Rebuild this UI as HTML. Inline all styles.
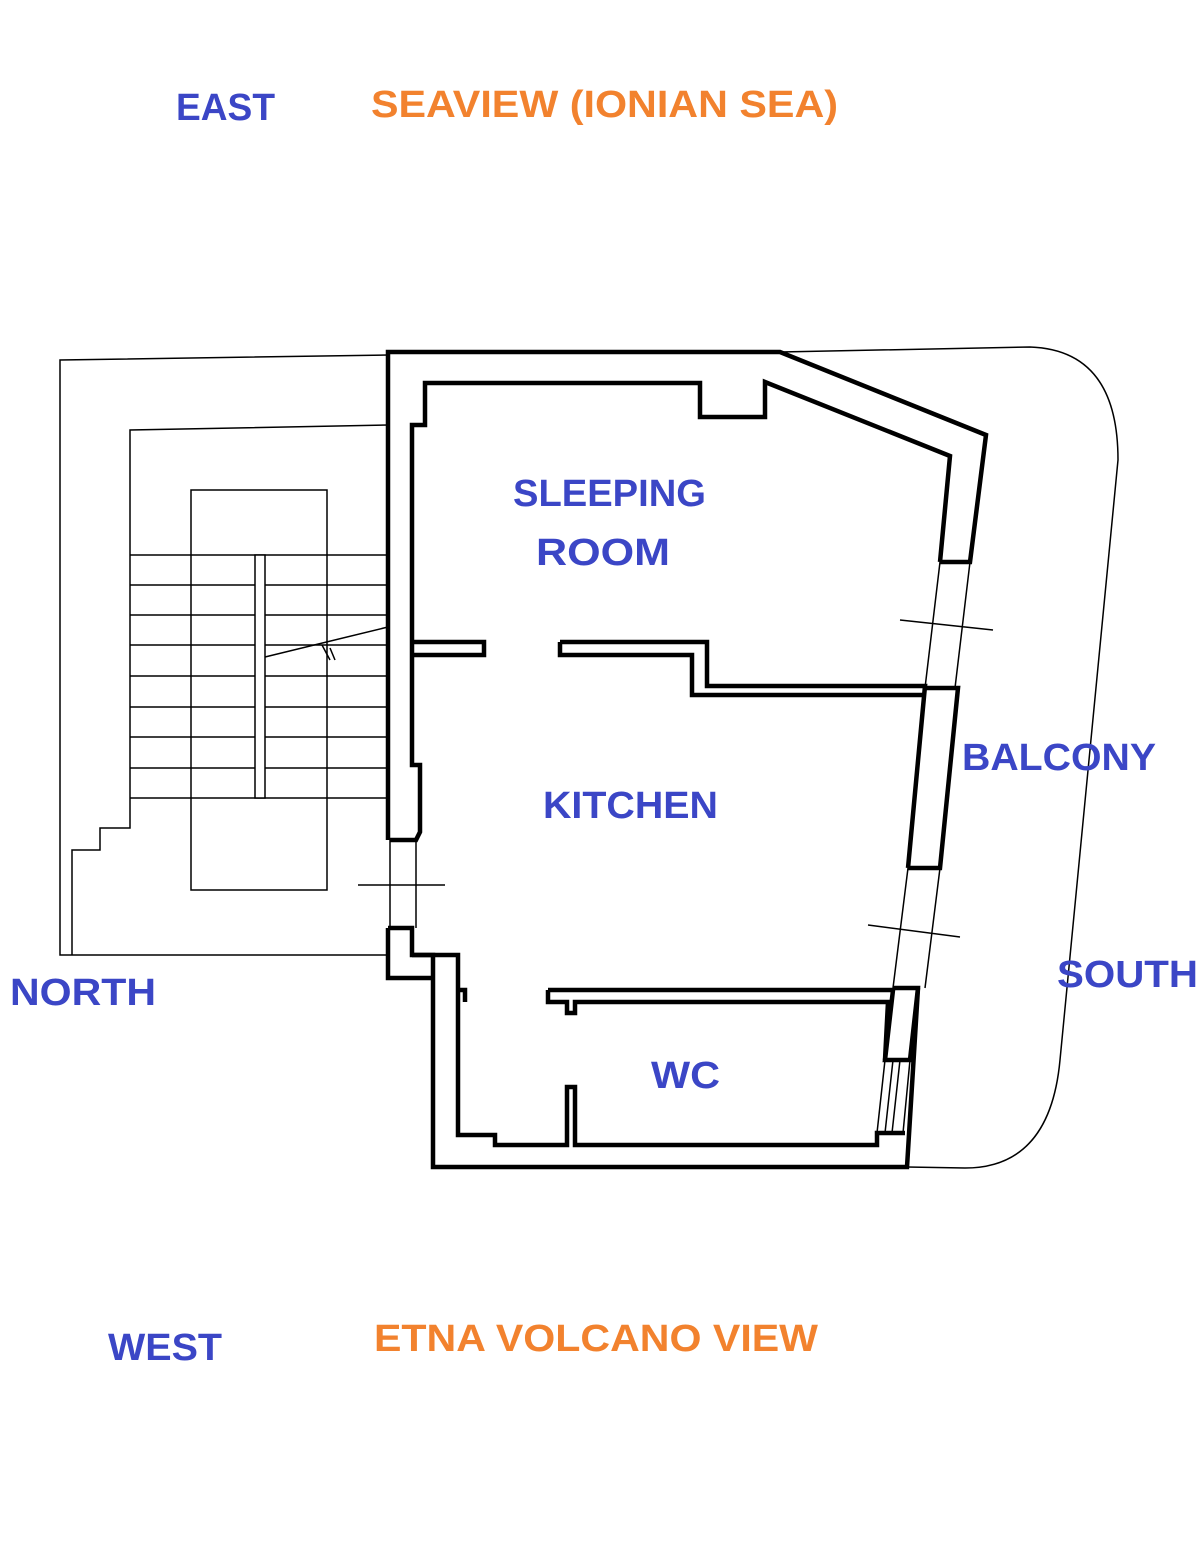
<!DOCTYPE html>
<html><head><style>
body{margin:0;background:#fff;}
svg{display:block}
text{font-family:"Liberation Sans",sans-serif;font-weight:bold;font-size:38px;}
.b{fill:#3b46c6}.o{fill:#f2822e}
</style></head><body>
<svg width="1200" height="1546" viewBox="0 0 1200 1546" xmlns="http://www.w3.org/2000/svg">
<g fill="none" stroke="#000" stroke-width="1.5">
<path d="M388,355 L60,360 L60,955 L388,955"/>
<path d="M388,425 L130,430 L130,828 L100,828 L100,850 L72,850 L72,955"/>
<rect x="191" y="490" width="136" height="400"/>
<path d="M130,555H388M130,585H388M130,615H388M130,645H388M130,676H388M130,707H388M130,737H388M130,768H388M130,798H388"/>
<rect x="255" y="555" width="10" height="243" fill="#fff"/>
<path d="M265,657 L388,627 M322,645 L330,660 M330,648 L335,660"/>
<path d="M780,352 L1030,347 Q1118,350 1118,460 L1060,1060 Q1050,1168 965,1168 L907,1167"/>
<path d="M390,840 V928 M416,840 V928 M358,885 H445"/>
<path d="M940,562 L925,688 M970,562 L955,688 M900,620 L993,630"/>
<path d="M908,868 L893,988 M940,868 L925,988 M868,925 L960,937"/>
<path d="M885,1060 L877,1133 M910,1060 L903,1133 M893,1060 L885,1133 M900,1060 L892,1133"/>
</g>
<g fill="none" stroke="#000" stroke-width="4.5" stroke-linejoin="miter">
<path d="M388,840 V352 H780 L986,435 L970,562 H940"/>
<path d="M925,688 L958,688 L940,868 H908"/>
<path d="M388,928 H412 V955 H433 V1167 H907 L918,988 H893"/>
<path d="M388,928 V978 H433"/>
<path d="M390,840 H416 L420,832 V765 H412 V425 H425 V383 H700 V417 H765 V382 L950,456 L940,562"/>
<path d="M412,642 H484 V655 H412"/>
<path d="M560,642 H707 V686 H925 L908,868"/>
<path d="M560,642 V655 H692 V695 H925"/>
<path d="M412,955 H458 V1135 H495 V1145 H567 V1087 H575 V1145 H877 V1133 H905"/>
<path d="M548,990 H893 L885,1060 H910 L918,988"/>
<path d="M548,990 V1002 H567 V1013 H575 V1002 H888 L885,1060"/>
<path d="M458,990 H465 V1002"/>
</g>
<text class="b" x="176" y="120" textLength="99" lengthAdjust="spacingAndGlyphs">EAST</text>
<text class="o" x="371" y="117" textLength="467" lengthAdjust="spacingAndGlyphs">SEAVIEW (IONIAN SEA)</text>
<text class="b" x="513" y="506" textLength="193" lengthAdjust="spacingAndGlyphs">SLEEPING</text>
<text class="b" x="536" y="565" textLength="134" lengthAdjust="spacingAndGlyphs">ROOM</text>
<text class="b" x="543" y="818" textLength="175" lengthAdjust="spacingAndGlyphs">KITCHEN</text>
<text class="b" x="962" y="770" textLength="194" lengthAdjust="spacingAndGlyphs">BALCONY</text>
<text class="b" x="1057" y="987" textLength="141" lengthAdjust="spacingAndGlyphs">SOUTH</text>
<text class="b" x="10" y="1005" textLength="146" lengthAdjust="spacingAndGlyphs">NORTH</text>
<text class="b" x="651" y="1088" textLength="69" lengthAdjust="spacingAndGlyphs">WC</text>
<text class="b" x="108" y="1360" textLength="114" lengthAdjust="spacingAndGlyphs">WEST</text>
<text class="o" x="374" y="1351" textLength="444" lengthAdjust="spacingAndGlyphs">ETNA VOLCANO VIEW</text>
</svg>
</body></html>
